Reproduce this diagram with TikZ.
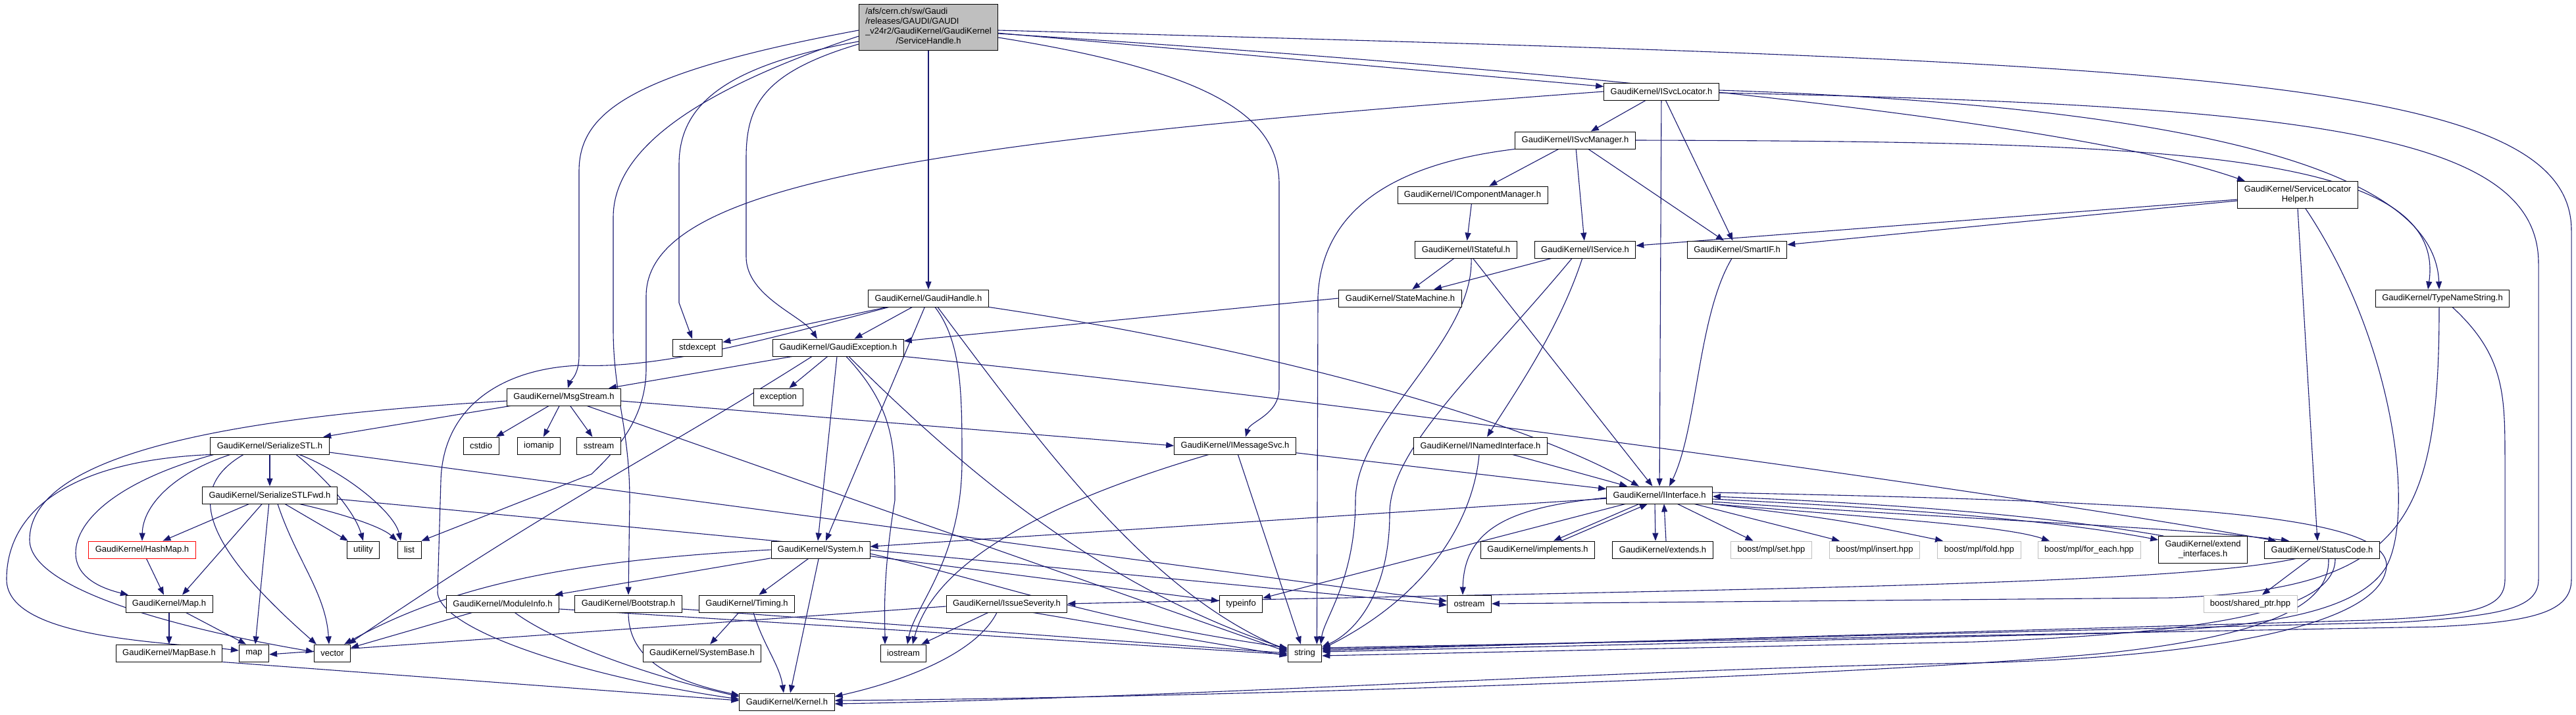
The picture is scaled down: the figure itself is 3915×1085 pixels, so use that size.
\documentclass[tikz,border=0pt]{standalone}
\usepackage{fontspec}
\setmainfont{Liberation Sans}
\usetikzlibrary{arrows.meta,backgrounds}
\definecolor{edgeblue}{RGB}{25,25,112}
\definecolor{nodegray}{RGB}{191,191,191}
\begin{document}
\begin{tikzpicture}[x=1pt,y=1pt,
  box/.style={draw=black, line width=0.9pt, fill=white, font=\fontsize{13}{15}\selectfont, inner xsep=10pt, inner ysep=0pt, minimum height=26pt},
  gbox/.style={box, draw=nodegray},
  rbox/.style={box, draw=red},
  rootbox/.style={box, fill=nodegray, minimum height=70pt},
  twobox/.style={box, align=center, minimum height=41pt},
  e/.style={draw=edgeblue, line width=1.1pt, -{Triangle[length=12pt,width=9pt]}}]
\useasboundingbox (0,0) rectangle (3915,-1085);
% nodes
\node[rootbox] (R) at (1411,-41) {\begin{tabular}{@{}l@{}}/afs/cern.ch/sw/Gaudi\\/releases/GAUDI/GAUDI\\\_v24r2/GaudiKernel/GaudiKernel\\\multicolumn{1}{@{}c@{}}{/ServiceHandle.h}\end{tabular}};
\node[box] (SL) at (2525,-139) {GaudiKernel/ISvcLocator.h};
\node[twobox] (SLH) at (3492,-296) {GaudiKernel/ServiceLocator\\Helper.h};
\node[box] (SM) at (2394,-213) {GaudiKernel/ISvcManager.h};
\node[box] (ICM) at (2238,-296) {GaudiKernel/IComponentManager.h};
\node[box] (IST) at (2228,-379) {GaudiKernel/IStateful.h};
\node[box] (IS) at (2409,-379) {GaudiKernel/IService.h};
\node[box] (SIF) at (2640,-379) {GaudiKernel/SmartIF.h};
\node[box] (STM) at (2128,-453) {GaudiKernel/StateMachine.h};
\node[box] (TNS) at (3712,-453) {GaudiKernel/TypeNameString.h};
\node[box] (GH) at (1411,-453) {GaudiKernel/GaudiHandle.h};
\node[box] (SE) at (1060,-528) {stdexcept};
\node[box] (GE) at (1274,-528) {GaudiKernel/GaudiException.h};
\node[box] (EXC) at (1183,-603) {exception};
\node[box] (MS) at (857,-603) {GaudiKernel/MsgStream.h};
\node[box] (SS) at (410,-677) {GaudiKernel/SerializeSTL.h};
\node[box] (CSTDIO) at (731,-677) {cstdio};
\node[box] (IOMANIP) at (819,-677) {iomanip};
\node[box] (SSTREAM) at (910,-677) {sstream};
\node[box] (IMS) at (1877,-677) {GaudiKernel/IMessageSvc.h};
\node[box] (INI) at (2250,-677) {GaudiKernel/INamedInterface.h};
\node[box] (SSF) at (410,-752) {GaudiKernel/SerializeSTLFwd.h};
\node[box] (II) at (2522,-752) {GaudiKernel/IInterface.h};
\node[rbox] (HM) at (216,-835) {GaudiKernel/HashMap.h};
\node[box] (UTIL) at (552,-835) {utility};
\node[box] (LIST) at (622,-835) {list};
\node[box] (SYS) at (1247,-835) {GaudiKernel/System.h};
\node[box] (IMPL) at (2337,-835) {GaudiKernel/implements.h};
\node[box] (EXT) at (2527,-835) {GaudiKernel/extends.h};
\node[gbox] (SET) at (2692,-835) {boost/mpl/set.hpp};
\node[gbox] (INS) at (2849,-835) {boost/mpl/insert.hpp};
\node[gbox] (FOLD) at (3008,-835) {boost/mpl/fold.hpp};
\node[gbox] (FE) at (3175,-835) {boost/mpl/for\_each.hpp};
\node[twobox] (EI) at (3348,-835) {GaudiKernel/extend\\\_interfaces.h};
\node[box] (SC) at (3529,-835) {GaudiKernel/StatusCode.h};
\node[box] (MAP) at (257,-917) {GaudiKernel/Map.h};
\node[box] (MI) at (764,-917) {GaudiKernel/ModuleInfo.h};
\node[box] (BS) at (955,-917) {GaudiKernel/Bootstrap.h};
\node[box] (TM) at (1135,-917) {GaudiKernel/Timing.h};
\node[box] (ISV) at (1530,-917) {GaudiKernel/IssueSeverity.h};
\node[box] (TI) at (1886,-917) {typeinfo};
\node[box] (OS) at (2233,-917) {ostream};
\node[gbox] (SP) at (3420,-917) {boost/shared\_ptr.hpp};
\node[box] (MB) at (257,-992) {GaudiKernel/MapBase.h};
\node[box] (MAPS) at (386,-992) {map};
\node[box] (VEC) at (505,-992) {vector};
\node[box] (SB) at (1067,-992) {GaudiKernel/SystemBase.h};
\node[box] (IOS) at (1373,-992) {iostream};
\node[box] (STR) at (1983,-992) {string};
\node[box] (K) at (1196,-1066) {GaudiKernel/Kernel.h};
% edges
\begin{scope}[on background layer]
% root
\draw[e] (R) -- (GH);
\draw[e] ([yshift=-5]R.west) .. controls (960,-110) and (880,-170) .. (880,-260) -- (880,-540) .. controls (880,-570) and (866,-580) .. ([xshift=6]MS.north);
\draw[e] ([yshift=-14]R.west) .. controls (1050,-140) and (932,-230) .. (932,-330) -- (932,-500) .. controls (932,-600) and (957,-650) .. (957,-760) -- (BS.north);
\draw[e] ([yshift=-22]R.west) .. controls (1100,-100) and (1032,-160) .. (1032,-250) -- (1032,-460) -- ([xshift=-8]SE.north);
\draw[e] ([yshift=-26]R.west) .. controls (1160,-110) and (1134,-160) .. (1134,-240) -- (1134,-390) .. controls (1134,-450) and (1220,-480) .. ([xshift=-32]GE.north);
\draw[e] ([yshift=-5]R.east) .. controls (3300,-95) and (3908,-110) .. (3908,-350) -- (3908,-880) .. controls (3908,-930) and (3850,-945) .. (3700,-952) -- ([yshift=8]STR.east);
\draw[e] ([yshift=-10]R.east) .. controls (2600,-120) and (3200,-200) .. ([xshift=-80]SLH.north);
\draw[e] (R) -- (SL);
\draw[e] ([yshift=-16]R.east) .. controls (1850,-110) and (1944,-180) .. (1944,-280) -- (1944,-590) .. controls (1944,-630) and (1900,-640) .. ([xshift=16]IMS.north);
% ISvcLocator
\draw[e] (SL) -- (SM);
\draw[e] (SL) -- (II);
\draw[e] (SL) -- (SIF);
\draw[e] (SL.west) .. controls (1400,-215) and (982,-280) .. (982,-450) -- (982,-560) .. controls (982,-640) and (930,-690) .. (899,-720) -- (LIST.north east);
\draw[e] ([yshift=2]SL.east) .. controls (3300,-160) and (3700,-250) .. ([xshift=-5]TNS.north);
\draw[e] ([yshift=-2]SL.east) .. controls (3500,-160) and (3858,-200) .. (3858,-400) -- (3858,-880) .. controls (3858,-925) and (3800,-935) .. (3650,-945) -- ([yshift=6]STR.east);
% ISvcManager
\draw[e] (SM) -- (ICM);
\draw[e] (SM) -- (IS);
\draw[e] (SM) -- (SIF);
\draw[e] (SM.south west) .. controls (2150,-245) and (2010,-300) .. (2003,-450) -- ([xshift=-8]STR.north east);
\draw[e] (SM.east) .. controls (3300,-215) and (3720,-230) .. ([xshift=-22]TNS.north);
% IComponentManager, IStateful, IService
\draw[e] (ICM) -- (IST);
\draw[e] (IST) -- (STM);
\draw[e] (IST) -- (II);
\draw[e] ([xshift=8]IST.south) .. controls (2240,-520) and (2060,-640) .. (2060,-760) .. controls (2060,-880) and (2012,-940) .. ([xshift=-2]STR.north east);
\draw[e] (IS) -- (STM);
\draw[e] (IS) .. controls (2370,-500) and (2300,-600) .. ([xshift=10]INI.north);
\draw[e] ([xshift=-20]IS.south) .. controls (2250,-560) and (2112,-680) .. (2112,-780) .. controls (2112,-900) and (2060,-960) .. ([yshift=-4]STR.north east);
\draw[e] (SIF) .. controls (2580,-480) and (2580,-650) .. ([xshift=15]II.north);
% ServiceLocatorHelper
\draw[e] (SLH) -- (IS);
\draw[e] (SLH) -- (SIF);
\draw[e] (SLH.south) -- ([xshift=-7]SC.north);
\draw[e] ([xshift=12]SLH.south) .. controls (3640,-520) and (3670,-780) .. (3627,-860) .. controls (3580,-940) and (3400,-955) .. (3200,-962) -- ([yshift=2]STR.east);
% TypeNameString
\draw[e] ([xshift=-5]TNS.south) .. controls (3707,-800) and (3650,-895) .. (3300,-908) -- (OS.east);
\draw[e] ([xshift=15]TNS.south) .. controls (3807,-540) and (3807,-600) .. (3807,-700) -- (3807,-880) .. controls (3807,-925) and (3760,-935) .. (3600,-942) -- ([yshift=4]STR.east);
% StateMachine, INamedInterface, IMessageSvc
\draw[e] (STM.west) -- ([yshift=10]GE.east);
\draw[e] (INI) -- (II);
\draw[e] ([xshift=-2]INI.south) .. controls (2240,-780) and (2180,-900) .. ([yshift=-7]STR.north east);
\draw[e] (IMS) -- (II);
\draw[e] (IMS) -- ([xshift=-6]STR.north);
\draw[e] ([xshift=-40]IMS.south) .. controls (1600,-760) and (1420,-850) .. ([xshift=14]IOS.north);
% GaudiHandle
\draw[e] (GH) -- (SE);
\draw[e] (GH) -- (GE);
\draw[e] (GH) -- ([xshift=8]SYS.north);
\draw[e] ([xshift=10]GH.south) .. controls (1462,-520) and (1462,-600) .. (1462,-700) .. controls (1462,-850) and (1390,-920) .. ([xshift=6]IOS.north);
\draw[e] ([xshift=14]GH.south) .. controls (1600,-700) and (1750,-900) .. ([yshift=4]STR.west);
\draw[e] (GH.south east) .. controls (1900,-525) and (2300,-630) .. ([xshift=-31]II.north);
\draw[e] ([xshift=-60]GH.south) .. controls (1150,-520) and (1000,-560) .. (880,-555) .. controls (760,-560) and (673,-620) .. (670,-730) -- (665,-900) .. controls (670,-960) and (900,-1030) .. ([yshift=4]K.west);
% GaudiException
\draw[e] ([xshift=-70]GE.south) -- ([xshift=68]MS.north);
\draw[e] (GE) -- (EXC);
\draw[e] ([xshift=-2]GE.south) -- ([xshift=-4]SYS.north);
\draw[e] ([xshift=12]GE.south) .. controls (1360,-620) and (1360,-680) .. (1360,-760) .. controls (1340,-880) and (1345,-950) .. ([xshift=-28]IOS.north);
\draw[e] ([xshift=16]GE.south) .. controls (1500,-750) and (1700,-900) .. ([yshift=6]STR.west);
\draw[e] (GE.south east) .. controls (2000,-605) and (3000,-740) .. ([xshift=18]SC.north west);
\draw[e] ([xshift=-40]GE.south) .. controls (1000,-690) and (850,-760) .. ([xshift=-4]VEC.north east);
% MsgStream
\draw[e] (MS) -- (SS);
\draw[e] (MS) -- (CSTDIO);
\draw[e] (MS) -- (IOMANIP);
\draw[e] (MS) -- (SSTREAM);
\draw[e] ([yshift=-6]MS.east) -- (IMS.west);
\draw[e] ([xshift=35]MS.south) -- ([yshift=2]STR.west);
\draw[e] ([yshift=-6]MS.west) .. controls (400,-630) and (45,-680) .. (45,-820) .. controls (45,-900) and (300,-960) .. ([yshift=2]VEC.west);
% SerializeSTL
\draw[e] (SS) -- (SSF);
\draw[e] ([xshift=-60]SS.south) .. controls (260,-720) and (217,-770) .. (HM.north);
\draw[e] ([xshift=-85]SS.south) .. controls (180,-730) and (115,-790) .. (115,-840) .. controls (115,-880) and (160,-895) .. ([xshift=-62]MAP.north);
\draw[e] (SS.south west) .. controls (100,-700) and (10,-780) .. (10,-880) .. controls (10,-970) and (250,-975) .. ([yshift=4]MAPS.west);
\draw[e] ([xshift=-40]SS.south) .. controls (285,-740) and (300,-820) .. ([xshift=4]VEC.north west);
\draw[e] ([xshift=40]SS.south) .. controls (500,-730) and (540,-780) .. (UTIL.north);
\draw[e] ([xshift=45]SS.south) .. controls (530,-720) and (600,-780) .. ([xshift=-13]LIST.north);
\draw[e] ([yshift=-10]SS.east) -- ([yshift=4]OS.west);
% SerializeSTLFwd
\draw[e] (SSF) -- (HM);
\draw[e] (SSF) -- ([xshift=20]MAP.north);
\draw[e] (SSF) -- ([xshift=2]MAPS.north);
\draw[e] ([xshift=12]SSF.south) .. controls (450,-850) and (495,-900) .. ([xshift=-5]VEC.north);
\draw[e] (SSF) -- (UTIL);
\draw[e] ([xshift=45]SSF.south) .. controls (520,-780) and (580,-800) .. (LIST.north west);
\draw[e] ([yshift=-6]SSF.east) -- ([yshift=-2]OS.west);
% HashMap, Map, MapBase
\draw[e] (HM) -- ([xshift=-8]MAP.north);
\draw[e] (MAP) -- (MB);
\draw[e] (MAP) -- ([xshift=-12]MAPS.north);
\draw[e] (MB.south east) -- ([yshift=2]K.west);
% ModuleInfo, Bootstrap
\draw[e] (MI) -- (VEC);
\draw[e] (MI) .. controls (850,-980) and (1000,-1030) .. ([yshift=8]K.west);
\draw[e] ([yshift=-8]MI.east) -- ([yshift=-2]STR.west);
\draw[e] (BS.south) .. controls (955,-990) and (1000,-1030) .. ([yshift=10]K.west);
\draw[e] ([yshift=-8]BS.east) -- (STR.west);
% System
\draw[e] (SYS) -- (MI);
\draw[e] (SYS) -- (TM);
\draw[e] (SYS) -- ([xshift=5]K.north);
\draw[e] (SYS) -- (TI);
\draw[e] ([yshift=-6]SYS.east) .. controls (1500,-880) and (1650,-940) .. ([yshift=8]STR.west);
\draw[e] (SYS.west) .. controls (900,-850) and (700,-880) .. ([xshift=-10]VEC.north east);
% Timing
\draw[e] (TM) -- (SB);
\draw[e] ([xshift=10]TM.south) .. controls (1160,-980) and (1185,-1010) .. ([xshift=-5]K.north);
% IssueSeverity
\draw[e] ([yshift=-4]ISV.west) -- ([yshift=-2]MAPS.east);
\draw[e] (ISV) -- ([xshift=-8]IOS.north east);
\draw[e] ([xshift=-15]ISV.south) .. controls (1480,-1000) and (1350,-1040) .. ([yshift=8]K.east);
\draw[e] ([xshift=40]ISV.south) -- ([yshift=-4]STR.west);
% StatusCode
\draw[e] (SC) -- (SP);
\draw[e] ([xshift=-40]SC.south) .. controls (3300,-890) and (2600,-895) .. (ISV.east);
\draw[e] ([xshift=20]SC.south) .. controls (3550,-920) and (3400,-960) .. (3000,-975) -- ([yshift=-4]STR.east);
\draw[e] ([xshift=10]SC.south) .. controls (3540,-900) and (3500,-960) .. (3200,-992) .. controls (2800,-1030) and (1800,-1060) .. ([yshift=2]K.east);
% IInterface
\draw[e] ([xshift=-31]II.south) -- ([xshift=24]IMPL.north);
\draw[e] ([xshift=36]IMPL.north) -- ([xshift=-18]II.south);
\draw[e] ([xshift=-7]II.south) -- ([xshift=-11]EXT.north);
\draw[e] ([xshift=5]EXT.north) -- ([xshift=7]II.south);
\draw[e] (II) -- (SET);
\draw[e] (II) -- (INS);
\draw[e] (II.south east) .. controls (2800,-790) .. ([xshift=-55]FOLD.north);
\draw[e] (II.south east) .. controls (2900,-790) and (3050,-800) .. ([xshift=-60]FE.north);
\draw[e] ([yshift=-6]II.east) .. controls (2950,-775) and (3150,-795) .. ([yshift=-6]EI.north west);
\draw[e] ([xshift=8]EI.north west) .. controls (3150,-790) and (2950,-768) .. ([yshift=-2]II.east);
\draw[e] ([yshift=-10]II.east) .. controls (3000,-790) and (3300,-800) .. ([xshift=-50]SC.north);
\draw[e] ([yshift=-4]II.west) .. controls (2300,-770) and (2225,-800) .. ([xshift=-10]OS.north);
\draw[e] (II) -- (SYS);
\draw[e] (II) -- (TI);
\draw[e] ([yshift=4]II.east) .. controls (3300,-762) and (3630,-780) .. (3627,-860) .. controls (3620,-960) and (3300,-1000) .. (3000,-1007) .. controls (2500,-1015) and (1800,-1060) .. ([yshift=-3]K.east);
\end{scope}
\end{tikzpicture}
\end{document}
